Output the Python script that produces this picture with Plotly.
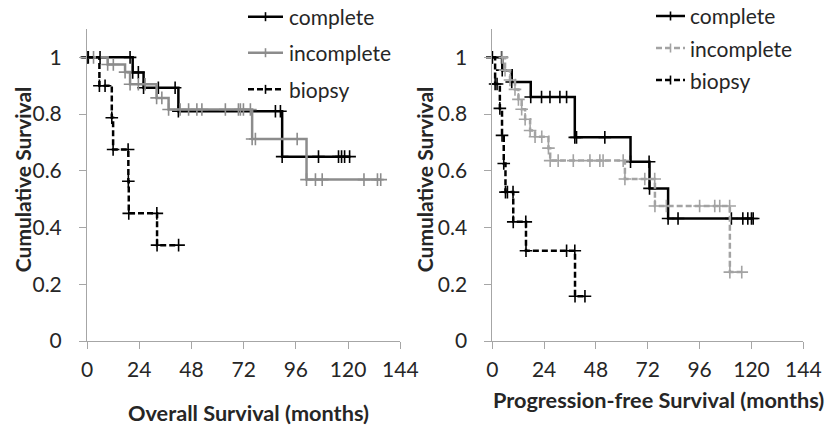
import plotly.graph_objects as go

# ---------------- data ----------------
x_ticks = [0, 24, 48, 72, 96, 120, 144]
y_ticks = [0, 0.2, 0.4, 0.6, 0.8, 1]
y_tick_text = ["0", "0.2", "0.4", "0.6", "0.8", "1"]

series_names = ["complete", "incomplete", "biopsy"]
y_title = "Cumulative Survival"
x_titles = ["Overall Survival (months)", "Progression-free Survival (months)"]

# Overall survival (months) – step points incl. censor marks
os_complete_t = [0, 0.6, 6, 19.8, 21, 23.6, 26, 32.8, 40.5, 42, 86.6, 88.9, 89.7, 106.4, 115.6, 117, 118.4, 120.7]
os_complete_s = [1, 1, 1, 1, 0.947, 0.947, 0.893, 0.893, 0.893, 0.81, 0.81, 0.81, 0.65, 0.65, 0.65, 0.65, 0.65, 0.65]

os_incomplete_t = [0, 3, 9.5, 12.1, 17.5, 19.8, 23.6, 26.7, 32, 34.4, 37.5, 42.8, 46.7, 50.5, 52.8, 63.6, 69.6, 70.5, 71.9, 75.1, 75.9, 77.4, 96.6, 100.9, 105, 108.1, 127.3, 133.5, 135]
os_incomplete_s = [1, 1, 0.975, 0.975, 0.948, 0.905, 0.905, 0.905, 0.857, 0.857, 0.816, 0.816, 0.816, 0.816, 0.816, 0.816, 0.816, 0.816, 0.816, 0.816, 0.712, 0.712, 0.712, 0.569, 0.569, 0.569, 0.569, 0.569, 0.569]

os_biopsy_t = [0, 5.7, 8.3, 11.4, 12.0, 18.9, 19.0, 19.2, 32.1, 32.2, 42.1]
os_biopsy_s = [1, 0.9, 0.9, 0.787, 0.675, 0.675, 0.563, 0.45, 0.45, 0.338, 0.338]

# Progression-free survival (months)
pfs_complete_t = [0, 4.3, 4.6, 9.0, 17.8, 22.8, 26.7, 31.3, 34.4, 38.2, 39.0, 52.1, 64.0, 72.6, 72.8, 81.4, 86.0, 110.7, 116.0, 118.3, 120.0, 120.8]
pfs_complete_s = [1, 1, 0.955, 0.913, 0.86, 0.86, 0.86, 0.86, 0.86, 0.718, 0.718, 0.718, 0.632, 0.632, 0.538, 0.432, 0.432, 0.432, 0.432, 0.432, 0.432, 0.432]

pfs_incomplete_t = [0, 4.6, 5.9, 8.2, 10.5, 12.1, 13.6, 15.2, 17.5, 19.8, 22.9, 26.0, 26.8, 30.5, 37.5, 45.2, 49.8, 51.3, 60.6, 61.4, 70.6, 75.2, 75.3, 80.6, 96.0, 103.0, 105.3, 109.9, 110.0, 115.5]
pfs_incomplete_s = [1, 1, 0.955, 0.92, 0.887, 0.852, 0.817, 0.782, 0.742, 0.72, 0.72, 0.68, 0.636, 0.636, 0.636, 0.636, 0.636, 0.636, 0.636, 0.571, 0.571, 0.571, 0.476, 0.476, 0.476, 0.476, 0.476, 0.476, 0.243, 0.243]

pfs_biopsy_t = [0, 1.3, 2.2, 3.5, 4.5, 5.3, 6.1, 7.0, 9.6, 9.7, 15.5, 15.6, 34.4, 38.2, 38.3, 42.9]
pfs_biopsy_s = [1, 0.906, 0.906, 0.82, 0.725, 0.626, 0.525, 0.525, 0.525, 0.42, 0.42, 0.318, 0.318, 0.318, 0.158, 0.158]

# ---------------- styling ----------------
FONT = "Lato"
TXT = "#262626"
AX = "#a6a6a6"
BLACK = "#000000"
GRAY_L = "#8c8c8c"
GRAY_R = "#a3a3a3"
DASH = "6px,3px"

W, H = 826, 425
ML, MR, MT, MB = 87, 0, 29, 84.3
PW, PH = W - ML - MR, H - MT - MB


def px_x(px):
    return (px - ML) / PW


def px_y(py):
    return (H - MB - py) / PH


def km_trace(t, s, name, color, dash, xa, ya):
    return go.Scatter(
        x=t, y=s, name=name, mode="lines+markers", showlegend=False,
        line=dict(shape="hv", color=color, width=2.5, dash=dash),
        marker=dict(symbol="cross-thin", size=9, line=dict(width=1.6, color=color), color=color),
        xaxis=xa, yaxis=ya, cliponaxis=False,
    )


fig = go.Figure()
fig.add_trace(km_trace(os_complete_t, os_complete_s, series_names[0], BLACK, "solid", "x", "y"))
fig.add_trace(km_trace(os_incomplete_t, os_incomplete_s, series_names[1], GRAY_L, "solid", "x", "y"))
fig.add_trace(km_trace(os_biopsy_t, os_biopsy_s, series_names[2], BLACK, DASH, "x", "y"))
fig.add_trace(km_trace(pfs_complete_t, pfs_complete_s, series_names[0], BLACK, "solid", "x2", "y2"))
fig.add_trace(km_trace(pfs_incomplete_t, pfs_incomplete_s, series_names[1], GRAY_R, DASH, "x2", "y2"))
fig.add_trace(km_trace(pfs_biopsy_t, pfs_biopsy_s, series_names[2], BLACK, DASH, "x2", "y2"))

# ---------------- hand-built legends (line sample + cross + label) ----------------
legend_specs = [
    # (x0, x1, text_x, [row centres], colours, dashes)
    (248, 283, 287, [16.7, 52.7, 89.3], [BLACK, GRAY_L, BLACK], ["solid", "solid", DASH]),
    (656, 685, 688, [16.0, 48.0, 80.0], [BLACK, GRAY_R, BLACK], ["solid", DASH, DASH]),
]
shapes, annotations = [], []
for x0, x1, tx, rows, cols, dashes in legend_specs:
    for name, yc, col, dsh in zip(series_names, rows, cols, dashes):
        shapes.append(dict(type="line", xref="paper", yref="paper",
                           x0=px_x(x0), x1=px_x(x1), y0=px_y(yc), y1=px_y(yc),
                           line=dict(color=col, width=2.5, dash=dsh)))
        xm = (x0 + x1) / 2
        shapes.append(dict(type="line", xref="paper", yref="paper",
                           x0=px_x(xm), x1=px_x(xm), y0=px_y(yc - 4.5), y1=px_y(yc + 4.5),
                           line=dict(color=col, width=1.6)))
        annotations.append(dict(text=name, xref="paper", yref="paper", x=px_x(tx), y=px_y(yc),
                                xanchor="left", yanchor="middle", showarrow=False,
                                font=dict(family=FONT, size=21, color=TXT)))

# axis titles (placed as in the reference)
xtitle_font = dict(family=FONT, size=21.7, color=TXT, weight="bold")
ytitle_font = dict(family=FONT, size=21, color=TXT, weight="bold")
for cx in (22, 424):
    annotations.append(dict(text=y_title, xref="paper", yref="paper", x=px_x(cx), y=px_y(180),
                            xanchor="center", yanchor="middle", textangle=-90, showarrow=False,
                            font=ytitle_font))
for txt, cx, cy in zip(x_titles, (248, 658), (413, 400)):
    annotations.append(dict(text=txt, xref="paper", yref="paper", x=px_x(cx), y=px_y(cy),
                            xanchor="center", yanchor="middle", showarrow=False, font=xtitle_font))

xcommon = dict(range=[0, 144], tickvals=x_ticks, showline=True, linecolor=AX, linewidth=1,
               ticks="outside", ticklen=7, tickcolor=AX, showgrid=False, zeroline=False,
               automargin=False, ticklabeloverflow="allow",
               tickfont=dict(family=FONT, size=21, color=TXT), ticklabelstandoff=3)
ycommon = dict(range=[0, 1.1], tickvals=y_ticks, ticktext=y_tick_text, showline=True, linecolor=AX,
               linewidth=1, ticks="outside", ticklen=7, tickcolor=AX, showgrid=False, zeroline=False,
               automargin=False,
               tickfont=dict(family=FONT, size=21, color=TXT), ticklabelstandoff=13)

fig.update_layout(
    width=W, height=H,
    margin=dict(l=ML, r=MR, t=MT, b=MB, autoexpand=False),
    paper_bgcolor="white", plot_bgcolor="white",
    font=dict(family=FONT, color=TXT),
    showlegend=False,
    xaxis=dict(domain=[0, px_x(400.3)], anchor="y", **xcommon),
    yaxis=dict(domain=[0, 1], anchor="x", **ycommon),
    xaxis2=dict(domain=[px_x(492.3), px_x(803.3)], anchor="y2", **xcommon),
    yaxis2=dict(domain=[0, 1], anchor="x2", **ycommon),
    shapes=shapes,
    annotations=annotations,
)

fig.write_html("out.html", config={"displayModeBar": False},
               post_script="document.body.style.margin='0px';")
